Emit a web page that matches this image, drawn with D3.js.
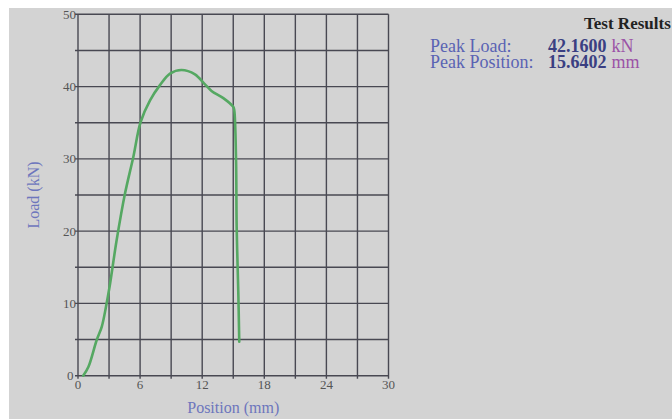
<!DOCTYPE html>
<html><head><meta charset="utf-8">
<script src="https://cdn.jsdelivr.net/npm/d3@7"></script>
<style>
html,body{margin:0;padding:0;background:#fff;}
svg{display:block;}
</style></head>
<body>
<script>
// Data
const positionMM = [0.5, 1.0, 1.8, 2.3, 2.7, 3.05, 3.74, 4.54, 5.35, 6.05, 6.96, 7.92, 8.89, 10.0, 11.3, 12.27, 12.9, 14.04, 15.0, 15.1, 15.27, 15.33, 15.49, 15.58];
const loadKN     = [0.0, 1.2, 4.9, 6.8, 9.5, 12.3, 18.8, 25.2, 30.3, 35.1, 38.1, 40.2, 41.8, 42.3, 41.7, 40.3, 39.4, 38.4, 37.2, 36.7, 29.8, 20.6, 11.4, 4.7];
const xTickLabels = [0, 6, 12, 18, 24, 30];
const yTickLabels = [0, 10, 20, 30, 40, 50];
const xGrid = [0,3,6,9,12,15,18,21,24,27,30];
const yGrid = [0,5,10,15,20,25,30,35,40,45,50];
const resultLabels = ["Peak Load:", "Peak Position:"];
const resultValues = ["42.1600", "15.6402"];
const resultUnits  = ["kN", "mm"];

(function(){
const W = 672, H = 419;
const svg = d3.select("body").append("svg").attr("width", W).attr("height", H);
svg.append("rect").attr("x", 0).attr("y", 0).attr("width", W).attr("height", H).attr("fill", "#fff");
svg.append("rect").attr("x", 9).attr("y", 8).attr("width", W - 9).attr("height", H - 8).attr("fill", "#d3d3d3");

const pL = 78, pR = 388.5, pT = 14.3, pB = 375.7;
const x = d3.scaleLinear().domain([0, 30]).range([pL, pR]);
const y = d3.scaleLinear().domain([0, 50]).range([pB, pT]);

const gridColor = "#484852";
const g = svg.append("g");
g.selectAll(".vg").data(xGrid).join("line")
  .attr("x1", d => x(d)).attr("x2", d => x(d))
  .attr("y1", pT).attr("y2", pB + 3)
  .attr("stroke", gridColor).attr("stroke-width", 1.4);
g.selectAll(".hg").data(yGrid).join("line")
  .attr("y1", d => y(d)).attr("y2", d => y(d))
  .attr("x1", pL - 3).attr("x2", pR)
  .attr("stroke", gridColor).attr("stroke-width", 1.4);

const font = "'Liberation Serif', 'DejaVu Serif', serif";
g.selectAll(".xl").data(xTickLabels).join("text")
  .attr("x", d => x(d)).attr("y", 389)
  .attr("text-anchor", "middle")
  .attr("font-family", font).attr("font-size", 13).attr("fill", "#555")
  .text(d => d);
g.selectAll(".yl").data(yTickLabels).join("text")
  .attr("x", d => d === 0 ? 73.5 : 76).attr("y", d => y(d) + 4.5)
  .attr("text-anchor", "end")
  .attr("font-family", font).attr("font-size", 13).attr("fill", "#555")
  .text(d => d);

svg.append("text").attr("x", (pL + pR) / 2).attr("y", 413)
  .attr("text-anchor", "middle").attr("font-family", font).attr("font-size", 16)
  .attr("fill", "#6d76bd").text("Position (mm)");
svg.append("text").attr("transform", `translate(38.5,${(pT + pB) / 2}) rotate(-90)`)
  .attr("text-anchor", "middle").attr("font-family", font).attr("font-size", 16)
  .attr("fill", "#6d76bd").text("Load (kN)");

const pts = positionMM.map((p, i) => [p, loadKN[i]]);
const line = d3.line().x(d => x(d[0])).y(d => y(d[1])).curve(d3.curveCatmullRom.alpha(0.5));
svg.append("path").datum(pts).attr("d", line)
  .attr("fill", "none").attr("stroke", "#55a862").attr("stroke-width", 2.6)
  .attr("stroke-linejoin", "round").attr("stroke-linecap", "round");

svg.append("text").attr("x", 584).attr("y", 28.5)
  .attr("font-family", font).attr("font-size", 17).attr("font-weight", "bold")
  .attr("fill", "#222").text("Test Results");
const rows = svg.selectAll(".row").data(resultLabels).join("g");
rows.append("text").attr("x", 430).attr("y", (d, i) => 51.5 + i * 16.8)
  .attr("font-family", font).attr("font-size", 18).attr("fill", "#5a63b3").text(d => d);
rows.append("text").attr("x", 548).attr("y", (d, i) => 51.5 + i * 16.8)
  .attr("font-family", font).attr("font-size", 18).attr("font-weight", "bold")
  .attr("fill", "#3a3f82").text((d, i) => resultValues[i]);
rows.append("text").attr("x", 611.5).attr("y", (d, i) => 51.5 + i * 16.8)
  .attr("font-family", font).attr("font-size", 18).attr("fill", "#9b52a6").text((d, i) => resultUnits[i]);
})();
</script>
</body></html>
